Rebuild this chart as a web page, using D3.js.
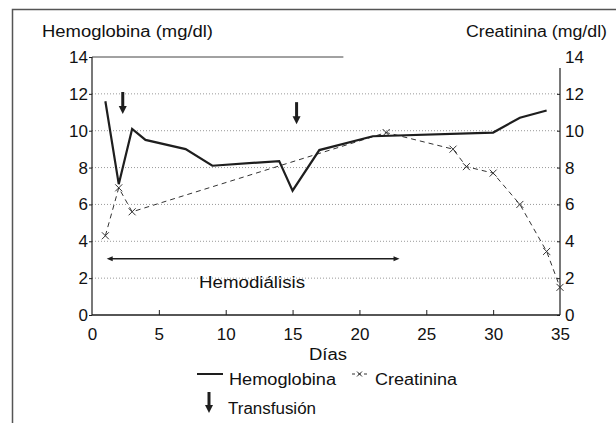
<!DOCTYPE html>
<html>
<head>
<meta charset="utf-8">
<script src="https://cdn.jsdelivr.net/npm/d3@7"></script>
<style>
  body { margin: 0; background: #fff; }
  svg { display: block; font-family: "Liberation Sans", Arial, sans-serif; }
</style>
</head>
<body>
<svg id="chart" width="616" height="423"></svg>
<script>
// values
const hbDays = [1, 2, 3, 4, 7, 9, 14, 15, 17, 21, 30, 32, 34];
const hbValues = [11.6, 7.1, 10.1, 9.5, 9.0, 8.1, 8.35, 6.75, 8.95, 9.7, 9.9, 10.7, 11.1];

const crDays = [1, 2, 3, 22, 27, 28, 30, 32, 34, 35];
const crValues = [4.3, 6.9, 5.6, 9.9, 9.0, 8.05, 7.7, 6.0, 3.45, 1.5];

const transfusionDays = [2.3, 15.3];
const transfusionTop = [12.1, 11.55];

const dialysisStart = 1.1;
const dialysisEnd = 23;
const dialysisLevel = 3.05;

const xTicks = [0, 5, 10, 15, 20, 25, 30, 35];
const yTicks = [0, 2, 4, 6, 8, 10, 12, 14];

(function drawChart() {
  const svg = d3.select("#chart");
  const ink = "#1e1e1e";

  const x = d3.scaleLinear().domain([0, 35]).range([92, 560]);
  const y = d3.scaleLinear().domain([0, 14]).range([315, 57]);

  // outer frame (only left and top visible)
  svg.append("path")
    .attr("d", "M12.5,423V9.5H616")
    .attr("fill", "none")
    .attr("stroke", "#555")
    .attr("stroke-width", 1.5);

  // dotted grid
  svg.append("g")
    .selectAll("line")
    .data(yTicks.filter(d => d > 0 && d < 14))
    .enter()
    .append("line")
    .attr("x1", x(0))
    .attr("x2", x(35))
    .attr("y1", d => y(d))
    .attr("y2", d => y(d))
    .attr("stroke", "#999")
    .attr("stroke-width", 1)
    .attr("stroke-dasharray", "1,2");

  // partial top border
  svg.append("line")
    .attr("x1", x(0)).attr("x2", x(18.8))
    .attr("y1", y(14)).attr("y2", y(14))
    .attr("stroke", "#444").attr("stroke-width", 1);

  // left axis
  const leftAxis = svg.append("g")
    .attr("transform", `translate(${x(0)},0)`)
    .call(d3.axisLeft(y).tickValues(yTicks).tickSize(3).tickPadding(1).tickFormat(d3.format("d")));

  // right axis
  const rightAxis = svg.append("g")
    .attr("transform", `translate(${x(35)},0)`)
    .call(d3.axisLeft(y).tickValues(yTicks).tickSize(3).tickFormat(d3.format("d")));
  rightAxis.selectAll("text")
    .attr("x", 5)
    .attr("text-anchor", "start");
  rightAxis.select(".domain").remove();
  rightAxis.selectAll(".tick").filter(d => d === 14).select("line").remove();
  svg.append("line")
    .attr("x1", x(35)).attr("x2", x(35))
    .attr("y1", y(13.4)).attr("y2", y(0))
    .attr("stroke", ink).attr("stroke-width", 1.2);

  // bottom axis
  const bottomAxis = svg.append("g")
    .attr("transform", `translate(0,${y(0)})`)
    .call(d3.axisTop(x).tickValues(xTicks).tickSize(5).tickFormat(d3.format("d")));
  bottomAxis.select(".domain").remove();
  bottomAxis.selectAll(".tick").filter(d => d === 0 || d === 35).select("line").remove();
  bottomAxis.selectAll("text")
    .attr("y", 25);
  svg.append("line")
    .attr("x1", x(0)).attr("x2", x(35))
    .attr("y1", y(0)).attr("y2", y(0))
    .attr("stroke", ink).attr("stroke-width", 1.5);

  leftAxis.select(".domain")
    .attr("d", `M0,${y(0)}V${y(14)}`)
    .attr("stroke", ink).attr("stroke-width", 1.2);

  svg.selectAll(".tick line").attr("stroke", ink);
  svg.selectAll(".tick text")
    .attr("fill", "#111")
    .attr("font-size", "17px")
    .attr("font-family", "Liberation Sans, Arial, sans-serif");

  // hemoglobina and creatinina series
  const hbData = hbDays.map((d, i) => [d, hbValues[i]]);
  const crData = crDays.map((d, i) => [d, crValues[i]]);
  const line = d3.line().x(d => x(d[0])).y(d => y(d[1]));

  svg.append("path")
    .datum(crData)
    .attr("d", line)
    .attr("fill", "none")
    .attr("stroke", "#333")
    .attr("stroke-width", 1)
    .attr("stroke-dasharray", "5,4");

  svg.append("g")
    .selectAll("path")
    .data(crData)
    .enter()
    .append("path")
    .attr("d", d => `M${x(d[0]) - 3.5},${y(d[1]) - 3.5}l7,7M${x(d[0]) - 3.5},${y(d[1]) + 3.5}l7,-7`)
    .attr("stroke", "#333")
    .attr("stroke-width", 1);

  svg.append("path")
    .datum(hbData)
    .attr("d", line)
    .attr("fill", "none")
    .attr("stroke", ink)
    .attr("stroke-width", 2.2)
    .attr("stroke-linejoin", "miter");

  // transfusion arrows
  function downArrow(g, cx, top, len) {
    g.append("line")
      .attr("x1", cx).attr("x2", cx)
      .attr("y1", top).attr("y2", top + len - 7)
      .attr("stroke", ink).attr("stroke-width", 3);
    g.append("path")
      .attr("d", `M${cx - 4},${top + len - 8}L${cx + 4},${top + len - 8}L${cx},${top + len}Z`)
      .attr("fill", ink);
  }

  const arrows = svg.append("g");
  transfusionDays.forEach((d, i) => {
    downArrow(arrows, x(d), y(transfusionTop[i]), 22);
  });

  // hemodialysis span
  const hy = y(dialysisLevel);
  svg.append("line")
    .attr("x1", x(dialysisStart) + 3).attr("x2", x(dialysisEnd) - 3)
    .attr("y1", hy).attr("y2", hy)
    .attr("stroke", ink).attr("stroke-width", 1.5);
  svg.append("path")
    .attr("d", `M${x(dialysisStart)},${hy}l6,-2.5v5Z M${x(dialysisEnd)},${hy}l-6,-2.5v5Z`)
    .attr("fill", ink);

  svg.append("text")
    .attr("x", 199).attr("y", 288)
    .attr("font-size", "16px")
    .attr("textLength", 106)
    .attr("lengthAdjust", "spacingAndGlyphs")
    .attr("fill", "#111")
    .text("Hemodiálisis");

  // axis titles
  svg.append("text")
    .attr("x", 42).attr("y", 37)
    .attr("font-size", "16px")
    .attr("textLength", 171)
    .attr("lengthAdjust", "spacingAndGlyphs")
    .attr("fill", "#111")
    .text("Hemoglobina (mg/dl)");

  svg.append("text")
    .attr("x", 466).attr("y", 37)
    .attr("font-size", "16px")
    .attr("textLength", 141)
    .attr("lengthAdjust", "spacingAndGlyphs")
    .attr("fill", "#111")
    .text("Creatinina (mg/dl)");

  svg.append("text")
    .attr("x", 309).attr("y", 360)
    .attr("font-size", "16px")
    .attr("textLength", 38)
    .attr("lengthAdjust", "spacingAndGlyphs")
    .attr("fill", "#111")
    .text("Días");

  // legend
  const legend = svg.append("g");

  legend.append("line")
    .attr("x1", 197).attr("x2", 223)
    .attr("y1", 374).attr("y2", 374)
    .attr("stroke", ink).attr("stroke-width", 2);
  legend.append("text")
    .attr("x", 229).attr("y", 385)
    .attr("font-size", "16px")
    .attr("textLength", 107)
    .attr("lengthAdjust", "spacingAndGlyphs")
    .attr("fill", "#111")
    .text("Hemoglobina");

  legend.append("line")
    .attr("x1", 352).attr("x2", 367)
    .attr("y1", 374).attr("y2", 374)
    .attr("stroke", "#333").attr("stroke-width", 1)
    .attr("stroke-dasharray", "3,3");
  legend.append("path")
    .attr("d", "M357,371.5l5,5M357,376.5l5,-5")
    .attr("stroke", "#333").attr("stroke-width", 1);
  legend.append("text")
    .attr("x", 375).attr("y", 385)
    .attr("font-size", "16px")
    .attr("textLength", 82)
    .attr("lengthAdjust", "spacingAndGlyphs")
    .attr("fill", "#111")
    .text("Creatinina");

  downArrow(legend, 209, 392, 21);
  legend.append("text")
    .attr("x", 228).attr("y", 414)
    .attr("font-size", "16px")
    .attr("textLength", 88)
    .attr("lengthAdjust", "spacingAndGlyphs")
    .attr("fill", "#111")
    .text("Transfusión");
})();
</script>
</body>
</html>
